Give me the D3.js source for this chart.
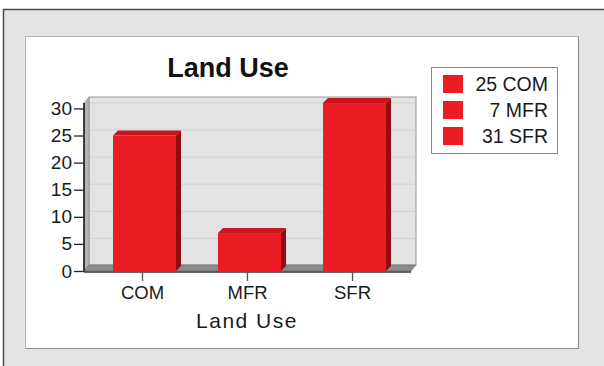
<!DOCTYPE html>
<html>
<head>
<meta charset="utf-8">
<script src="https://cdn.jsdelivr.net/npm/d3@7"></script>
<style>
  html, body { margin: 0; padding: 0; background: #ffffff; }
  svg { display: block; font-family: "Liberation Sans", Arial, sans-serif; }
</style>
</head>
<body>
<svg id="chart" width="604" height="366"></svg>
<script>
// Land use counts by category
const categories = ["COM", "MFR", "SFR"];
const counts = [25, 7, 31];
const yTicks = [0, 5, 10, 15, 20, 25, 30];
const chartTitle = "Land Use";
const xTitle = "Land Use";

const svg = d3.select("#chart");

// Outer grey frame and white chart panel
svg.append("rect").attr("x", 3.5).attr("y", 9.5).attr("width", 610).attr("height", 370)
  .attr("fill", "#e4e4e4").attr("stroke", "#4a4a4a").attr("stroke-width", 1.5);
svg.append("rect").attr("x", 25.5).attr("y", 36.5).attr("width", 553).attr("height", 312)
  .attr("fill", "#ffffff").attr("stroke", "#b8b8b8").attr("stroke-width", 1);
svg.append("path").attr("d", "M578.5,36.5V348.5H25.5")
  .attr("fill", "none").attr("stroke", "#8e8e8e").attr("stroke-width", 1.2);

// Plot geometry: front plane plus a depth offset for the 3D walls
const plotLeft = 84, plotRight = 411, plotBottom = 271, plotTop = 103;
const dx = 5, dy = -6;      // wall depth
const bdx = 5, bdy = -5;    // bar depth

const x = d3.scaleBand().domain(categories).range([plotLeft, plotRight])
  .paddingInner(0.4).paddingOuter(0.257);
const y = d3.scaleLinear().domain([0, 31]).range([plotBottom, plotTop]);

// Back wall
svg.append("rect")
  .attr("x", plotLeft + dx).attr("y", plotTop + dy)
  .attr("width", plotRight - plotLeft).attr("height", plotBottom - plotTop)
  .attr("fill", "#e3e3e3").attr("stroke", "#9a9a9a").attr("stroke-width", 1);

// Gridlines on the back wall
svg.append("g").selectAll("line").data(yTicks.filter(d => d > 0)).join("line")
  .attr("x1", plotLeft + dx + 1).attr("x2", plotRight + dx - 1)
  .attr("y1", d => y(d) + dy + 0.5).attr("y2", d => y(d) + dy + 0.5)
  .attr("stroke", "#d0d0d0").attr("stroke-width", 1);

// Left side wall
svg.append("path")
  .attr("d", `M${plotLeft},${plotBottom}V${plotTop}L${plotLeft + dx},${plotTop + dy}V${plotBottom + dy}Z`)
  .attr("fill", "#b4b4b4").attr("stroke", "#8a8a8a").attr("stroke-width", 0.6);

// Floor
svg.append("path")
  .attr("d", `M${plotLeft},${plotBottom}L${plotLeft + dx},${plotBottom + dy}H${plotRight + dx}L${plotRight},${plotBottom}Z`)
  .attr("fill", "#8c8c8c").attr("stroke", "#6a6a6a").attr("stroke-width", 0.6);

// Bars with top and side faces
const barShift = 2;
const bars = svg.append("g").selectAll("g").data(categories).join("g");
bars.append("path") // side face
  .attr("d", (c, i) => {
    const x1 = x(c) + barShift + x.bandwidth();
    return `M${x1},${plotBottom}V${y(counts[i])}L${x1 + bdx},${y(counts[i]) + bdy}V${plotBottom + bdy}Z`;
  })
  .attr("fill", "#8f0c12");
bars.append("path") // top face
  .attr("d", (c, i) => {
    const x0 = x(c) + barShift, x1 = x0 + x.bandwidth(), yt = y(counts[i]);
    return `M${x0},${yt}L${x0 + bdx},${yt + bdy}H${x1 + bdx}L${x1},${yt}Z`;
  })
  .attr("fill", "#c9161d");
bars.append("rect") // front face
  .attr("x", c => x(c) + barShift)
  .attr("y", (c, i) => y(counts[i]))
  .attr("width", x.bandwidth())
  .attr("height", (c, i) => plotBottom - y(counts[i]))
  .attr("fill", "#ec1c24");

// Y axis
const yAxis = svg.append("g").attr("transform", `translate(${plotLeft},0)`)
  .call(d3.axisLeft(y).tickValues(yTicks).tickSize(10).tickPadding(2).tickFormat(d3.format("d")));
yAxis.select(".domain").attr("d", `M0,${plotTop}V${plotBottom}`).attr("stroke", "#111").attr("stroke-width", 1.5);
yAxis.selectAll(".tick line").attr("stroke", "#222").attr("stroke-width", 1.3);
yAxis.selectAll(".tick text").attr("font-size", 19).attr("fill", "#1a1a1a")
  .attr("font-family", "'Liberation Sans', Arial, sans-serif");

// X axis
const xAxis = svg.append("g").attr("transform", `translate(0,${plotBottom + 1})`)
  .call(d3.axisBottom(x).tickSize(9).tickPadding(5));
xAxis.select(".domain").attr("d", `M${plotLeft},0H${plotRight}`).attr("stroke", "#333").attr("stroke-width", 1.5);
xAxis.selectAll(".tick line").attr("stroke", "#555").attr("stroke-width", 1.3);
xAxis.selectAll(".tick text").attr("font-size", 18.5).attr("fill", "#1a1a1a")
  .attr("font-family", "'Liberation Sans', Arial, sans-serif");

// Titles
svg.append("text").attr("x", 228).attr("y", 77).attr("text-anchor", "middle")
  .attr("font-size", 27).attr("font-weight", "bold").attr("fill", "#111")
  .text(chartTitle);
svg.append("text").attr("x", 247).attr("y", 328).attr("text-anchor", "middle")
  .attr("font-size", 21).attr("letter-spacing", "1.5px").attr("fill", "#1a1a1a")
  .text(xTitle);

// Legend
const legend = svg.append("g");
legend.append("rect").attr("x", 431.5).attr("y", 67.5).attr("width", 126).attr("height", 86)
  .attr("fill", "#ffffff").attr("stroke", "#8a8a8a").attr("stroke-width", 1);
const rows = legend.selectAll("g.row").data(categories).join("g").attr("class", "row")
  .attr("transform", (c, i) => `translate(0,${91 + i * 26})`);
rows.append("rect").attr("x", 443).attr("y", -16).attr("width", 20).attr("height", 18)
  .attr("fill", "#ec1c24");
rows.append("text").attr("x", 548).attr("y", 0).attr("text-anchor", "end")
  .attr("font-size", 19.5).attr("fill", "#1a1a1a")
  .text((c, i) => `${counts[i]} ${c}`);
</script>
</body>
</html>
